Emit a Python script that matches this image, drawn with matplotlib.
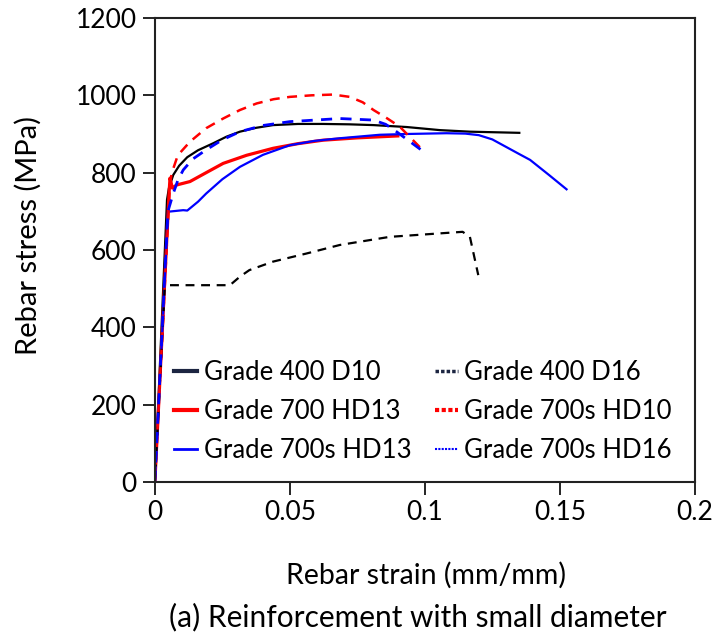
import matplotlib
matplotlib.use("Agg")
import matplotlib.pyplot as plt
from matplotlib.lines import Line2D

plt.rcParams["font.family"] = ["Lato", "DejaVu Sans"]

# Grade 400 D10
d10_strain = [0, 0.0045, 0.0052, 0.0068, 0.009, 0.012, 0.016, 0.0216, 0.0265, 0.0315, 0.0375,
              0.0438, 0.053, 0.0622, 0.072, 0.081, 0.0933, 0.1056, 0.1167, 0.135]
d10_stress = [0, 730, 760, 794, 818, 840, 858, 876, 893, 906, 916,
              923, 926, 926, 925, 923, 918, 910, 906, 903]

# Grade 700 HD13
hd13_strain = [0, 0.0052, 0.0056, 0.0065, 0.008, 0.013, 0.019, 0.0253, 0.034, 0.0438, 0.053,
               0.0623, 0.075, 0.09]
hd13_stress = [0, 740, 786, 760, 768, 777, 800, 824, 845, 863, 875,
               884, 890, 895]

# Grade 700s HD13
s_hd13_strain = [0, 0.0049, 0.0105, 0.012, 0.016, 0.019, 0.025, 0.0315, 0.04, 0.05, 0.059,
                 0.0685, 0.0833, 0.0932, 0.108, 0.115, 0.12, 0.125, 0.13, 0.135, 0.139, 0.146,
                 0.1525]
s_hd13_stress = [0, 699, 703, 702, 725, 746, 783, 815, 846, 871, 882,
                 889, 898, 900, 902, 901, 897, 886, 867, 848, 833, 794,
                 757]

# Grade 400 D16
d16_strain = [0, 0.0037, 0.0278, 0.0315, 0.035, 0.0438, 0.0562, 0.0685, 0.087, 0.1056, 0.114,
              0.1167, 0.1198]
d16_stress = [0, 509, 509, 531, 548, 570, 591, 613, 634, 643, 647, 634, 535]

# Grade 700s HD10
s_hd10_strain = [0, 0.0055, 0.0062, 0.0085, 0.013, 0.019, 0.0253, 0.0315, 0.0377, 0.044, 0.05,
                 0.058, 0.066, 0.0722, 0.077, 0.081, 0.0857, 0.0907, 0.0994]
s_hd10_stress = [0, 760, 798, 845, 880, 915, 940, 962, 979, 990, 996,
                 1000, 1002, 996, 982, 962, 942, 919, 857]

# Grade 700s HD16
s_hd16_strain = [0, 0.0048, 0.0068, 0.0085, 0.0105, 0.014, 0.019, 0.025, 0.0315, 0.04, 0.05,
                 0.0685, 0.081, 0.0855, 0.0895, 0.0994]
s_hd16_stress = [0, 699, 746, 780, 807, 835, 859, 885, 906, 922, 932,
                 940, 936, 925, 906, 855]

labels = ["Grade 400 D10", "Grade 700 HD13", "Grade 700s HD13",
          "Grade 400 D16", "Grade 700s HD10", "Grade 700s HD16"]

fig = plt.figure(figsize=(7.17, 6.38), dpi=100)
ax = fig.add_axes([0.216, 0.2445, 0.753, 0.7273])

ax.plot(d10_strain, d10_stress, color="black", lw=1.6)
ax.plot(hd13_strain, hd13_stress, color="#ff0000", lw=2.3)
ax.plot(s_hd13_strain, s_hd13_stress, color="#0000ff", lw=1.6)
ax.plot(d16_strain, d16_stress, color="black", lw=1.6, ls=(0, (4, 3)))
ax.plot(s_hd10_strain, s_hd10_stress, color="#ff0000", lw=1.8, ls=(0, (4, 3)))
ax.plot(s_hd16_strain, s_hd16_stress, color="#0000ff", lw=2.0, ls=(0, (4, 3)))

ax.set_xlim(0, 0.2)
ax.set_ylim(0, 1200)
ax.set_xticks([0, 0.05, 0.1, 0.15, 0.2])
ax.set_xticklabels(["0", "0.05", "0.1", "0.15", "0.2"])
ax.set_yticks(range(0, 1201, 200))
ax.tick_params(direction="out", length=9, width=1.2, labelsize=19, pad=4)
for s in ax.spines.values():
    s.set_linewidth(1.5)
    s.set_color("#222222")

# axis titles placed where they sit in the original
fig.text(0.594, 0.0987, "Rebar strain (mm/mm)", fontsize=20.5, ha="center", va="center")
fig.text(0.039, 0.631, "Rebar stress (MPa)", fontsize=21, ha="center", va="center",
         rotation=90)
fig.text(0.583, 0.033, "(a) Reinforcement with small diameter", fontsize=21.5,
         ha="center", va="center")

handles = [
    Line2D([], [], color="#1c2541", lw=3),
    Line2D([], [], color="#ff0000", lw=3),
    Line2D([], [], color="#0000ff", lw=2),
    Line2D([], [], color="#1c2541", lw=2.5, ls=(0, (1, 0.6))),
    Line2D([], [], color="#ff0000", lw=3, ls=(0, (1, 0.6))),
    Line2D([], [], color="#0000ff", lw=1.5, ls=(0, (1, 0.6))),
]
ax.legend(handles, labels, ncol=2, loc="lower left", bbox_to_anchor=(-0.0074, -0.009),
          frameon=False, fontsize=18.5, handlelength=0.9, handletextpad=0.25,
          columnspacing=0.92, labelspacing=0.555)

fig.savefig("out.png", dpi=100)
